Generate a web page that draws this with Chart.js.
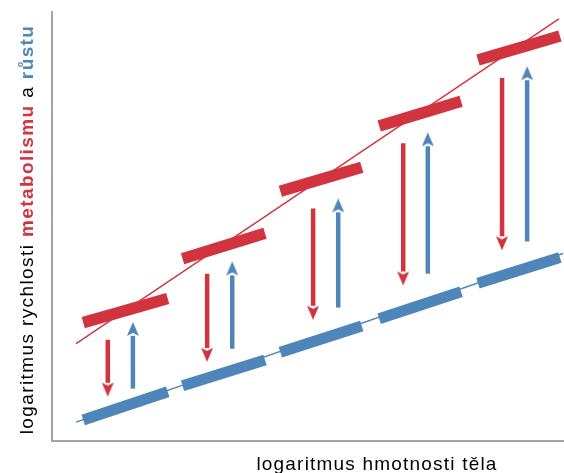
<!DOCTYPE html>
<html>
<head>
<meta charset="utf-8">
<script src="https://cdn.jsdelivr.net/npm/chart.js@4/dist/chart.umd.min.js"></script>
<style>
  html, body { margin: 0; padding: 0; background: #fff; }
  #wrap { width: 564px; height: 473px; }
</style>
</head>
<body>
<div id="wrap"><canvas id="myChart"></canvas></div>
<script>
// Segment ends (shared by the red and blue bars), axis units 0..100
const segStartX = [6.1, 25.5, 44.6, 63.9, 83.2]
const segEndX = [22.6, 41.6, 60.5, 79.9, 99.2]

// Red bars (metabolism)
const redStartY = [27.6, 42.5, 58.2, 73.4, 88.8]
const redEndY = [33.2, 48.4, 63.8, 79.2, 94.4]

// Blue bars (growth)
const blueStartY = [4.9, 12.9, 20.7, 28.5, 36.8]
const blueEndY = [11.5, 18.9, 26.8, 34.8, 42.8]

// Arrows: red point down, blue point up
const redArrowX = [10.9, 30.3, 51.0, 68.6, 87.9]
const redArrowFrom = [23.6, 39.0, 54.2, 69.4, 84.6]
const redArrowTo = [13.6, 21.7, 31.5, 39.5, 47.7]
const blueArrowX = [15.8, 35.2, 55.9, 73.4, 92.8]
const blueArrowFrom = [12.2, 21.5, 31.1, 39.0, 46.5]
const blueArrowTo = [24.5, 38.6, 53.3, 68.7, 84.1]

// Thin trend lines
const redTrendX = [4.7, 99.0]
const redTrendY = [22.7, 98.4]
const blueTrendX = [4.7, 99.8]
const blueTrendY = [4.4, 43.7]

const RED = '#d1343f'
const BLUE = '#4f86b9'

// arrow head image, base of the head sits at the image centre
function makeHead(color) {
    const w = 12, h = 14
    const c = document.createElement('canvas')
    c.width = w
    c.height = h * 2
    const g = c.getContext('2d')
    g.fillStyle = color
    g.beginPath()
    g.moveTo(w / 2, 0)
    g.lineTo(w, h)
    g.lineTo(w / 2, h - 3)
    g.lineTo(0, h)
    g.closePath()
    g.fill()
    return c
}
const redHead = makeHead(RED)
const blueHead = makeHead(BLUE)

function line(xs, ys, color, width, order) {
    return {
        data: xs.map((x, i) => ({ x: x, y: ys[i] })),
        showLine: true,
        borderColor: color,
        backgroundColor: color,
        borderWidth: width,
        borderCapStyle: 'butt',
        pointRadius: 0,
        order: order,
        clip: false
    }
}

function arrow(x, from, to, color, head, down) {
    const ds = line([x, x], [from, to], color, 4.5, 2)
    ds.pointRadius = [0, 6]
    ds.pointStyle = [false, head]
    ds.rotation = down ? 180 : 0
    return ds
}

const datasets = []
datasets.push(line(redTrendX, redTrendY, RED, 1.4, 3))
datasets.push(line(blueTrendX, blueTrendY, BLUE, 1.4, 3))
segStartX.forEach(function (x0, i) {
    datasets.push(line([x0, segEndX[i]], [redStartY[i], redEndY[i]], RED, 11.5, 1))
    datasets.push(line([x0, segEndX[i]], [blueStartY[i], blueEndY[i]], BLUE, 11, 1))
    datasets.push(arrow(redArrowX[i], redArrowFrom[i], redArrowTo[i], RED, redHead, true))
    datasets.push(arrow(blueArrowX[i], blueArrowFrom[i], blueArrowTo[i], BLUE, blueHead, false))
})

// axis titles, y title has coloured words
const axisTitles = {
    id: 'axisTitles',
    afterDraw(chart) {
        const ctx = chart.ctx
        const area = chart.chartArea
        ctx.save()
        ctx.fillStyle = '#000'
        ctx.textBaseline = 'alphabetic'
        ctx.letterSpacing = '1.2px'
        ctx.font = '19px "Liberation Sans", Arial, sans-serif'
        ctx.textAlign = 'center'
        ctx.fillText('logaritmus hmotnosti těla', 377, 470)

        const parts = [
            ['logaritmus rychlosti ', 'normal', '#000'],
            ['metabolismu', 'bold', RED],
            [' a ', 'normal', '#000'],
            ['růstu', 'bold', BLUE]
        ]
        ctx.textAlign = 'left'
        ctx.letterSpacing = '1.4px'
        let total = 0
        parts.forEach(function (p) {
            ctx.font = p[1] + ' 19px "Liberation Sans", Arial, sans-serif'
            p.push(ctx.measureText(p[0]).width)
            total += p[3]
        })
        ctx.translate(33, (area.top + area.bottom) / 2 + 3)
        ctx.rotate(-Math.PI / 2)
        let pos = -total / 2
        parts.forEach(function (p) {
            ctx.font = p[1] + ' 19px "Liberation Sans", Arial, sans-serif'
            ctx.fillStyle = p[2]
            ctx.fillText(p[0], pos, 0)
            pos += p[3]
        })
        ctx.restore()
    }
}

const axisOpts = {
    min: 0,
    max: 100,
    grid: { display: false, drawTicks: false },
    ticks: { display: false },
    border: { display: true, color: '#a3a3a3', width: 2 }
}

new Chart(document.getElementById('myChart'), {
    type: 'scatter',
    data: { datasets: datasets },
    options: {
        responsive: true,
        maintainAspectRatio: false,
        animation: false,
        events: [],
        layout: { autoPadding: false, padding: { left: 52, top: 12, right: 0, bottom: 32 } },
        plugins: { legend: { display: false }, tooltip: { enabled: false } },
        scales: {
            x: Object.assign({ type: 'linear' }, axisOpts),
            y: Object.assign({ type: 'linear' }, axisOpts)
        }
    },
    plugins: [axisTitles]
})
</script>
</body>
</html>
